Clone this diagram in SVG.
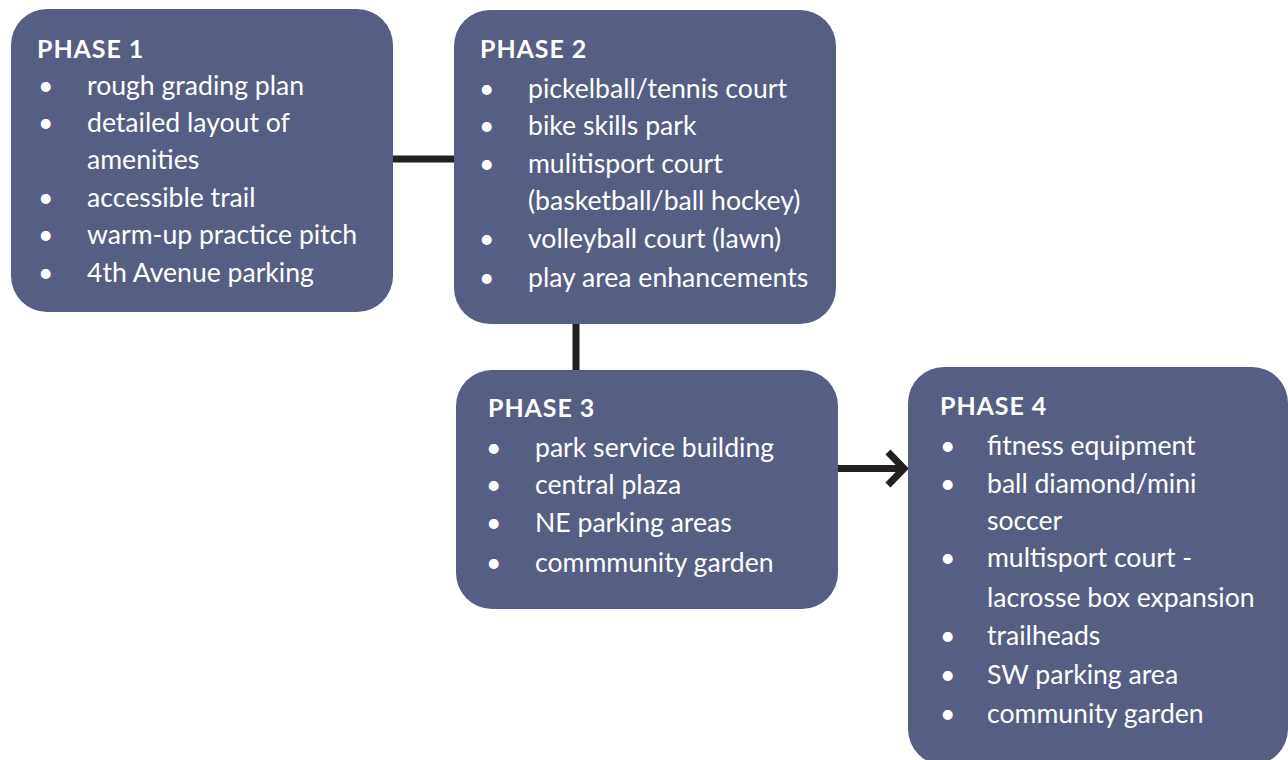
<svg xmlns="http://www.w3.org/2000/svg" width="1288" height="760" viewBox="0 0 1288 760">
<style>
.box{fill:#575e83;}
.t{font-family:Lato,"Liberation Sans",sans-serif;font-size:26.6px;fill:#ffffff;}
.h{font-family:Lato,"Liberation Sans",sans-serif;font-size:25px;font-weight:bold;letter-spacing:0.9px;fill:#ffffff;}
.c{stroke:#231f20;stroke-width:7;fill:none;}
</style>
<rect width="1288" height="760" fill="#ffffff"/>
<g id="connectors">
<line class="c" x1="392" y1="159" x2="456" y2="159"/>
<line class="c" x1="576" y1="322" x2="576" y2="372"/>
<line class="c" x1="837" y1="468.5" x2="903" y2="468.5"/>
<polyline class="c" points="888,452 904,468.5 888,485" stroke-width="8"/>
</g>
<g id="phase1">
<rect class="box" x="11" y="9" width="382" height="303" rx="36"/>
<text class="h" x="37" y="58">PHASE 1</text>
<text class="t" x="38" y="95">•</text><text class="t" x="87" y="95">rough grading plan</text>
<text class="t" x="38" y="132">•</text><text class="t" x="87" y="132">detailed layout of</text>
<text class="t" x="87" y="169">amenities</text>
<text class="t" x="38" y="207">•</text><text class="t" x="87" y="207">accessible trail</text>
<text class="t" x="38" y="244">•</text><text class="t" x="87" y="244">warm-up practice pitch</text>
<text class="t" x="38" y="282">•</text><text class="t" x="87" y="282">4th Avenue parking</text>
</g>
<g id="phase2">
<rect class="box" x="454" y="10" width="382" height="314" rx="36"/>
<text class="h" x="480" y="58">PHASE 2</text>
<text class="t" x="479" y="98">•</text><text class="t" x="528" y="98">pickelball/tennis court</text>
<text class="t" x="479" y="135">•</text><text class="t" x="528" y="135">bike skills park</text>
<text class="t" x="479" y="173">•</text><text class="t" x="528" y="173">mulitisport court</text>
<text class="t" x="528" y="210">(basketball/ball hockey)</text>
<text class="t" x="479" y="248">•</text><text class="t" x="528" y="248">volleyball court (lawn)</text>
<text class="t" x="479" y="287">•</text><text class="t" x="528" y="287">play area enhancements</text>
</g>
<g id="phase3">
<rect class="box" x="456" y="370" width="382" height="239" rx="36"/>
<text class="h" x="488" y="417">PHASE 3</text>
<text class="t" x="486" y="457">•</text><text class="t" x="535" y="457">park service building</text>
<text class="t" x="486" y="494">•</text><text class="t" x="535" y="494">central plaza</text>
<text class="t" x="486" y="532">•</text><text class="t" x="535" y="532">NE parking areas</text>
<text class="t" x="486" y="572">•</text><text class="t" x="535" y="572">commmunity garden</text>
</g>
<g id="phase4">
<rect class="box" x="908" y="367" width="380" height="398" rx="36"/>
<text class="h" x="940" y="415">PHASE 4</text>
<text class="t" x="940" y="455">•</text><text class="t" x="987" y="455">fitness equipment</text>
<text class="t" x="940" y="493">•</text><text class="t" x="987" y="493">ball diamond/mini</text>
<text class="t" x="987" y="530">soccer</text>
<text class="t" x="940" y="567">•</text><text class="t" x="987" y="567">multisport court -</text>
<text class="t" x="987" y="607">lacrosse box expansion</text>
<text class="t" x="940" y="645">•</text><text class="t" x="987" y="645">trailheads</text>
<text class="t" x="940" y="684">•</text><text class="t" x="987" y="684">SW parking area</text>
<text class="t" x="940" y="723">•</text><text class="t" x="987" y="723">community garden</text>
</g>
</svg>
